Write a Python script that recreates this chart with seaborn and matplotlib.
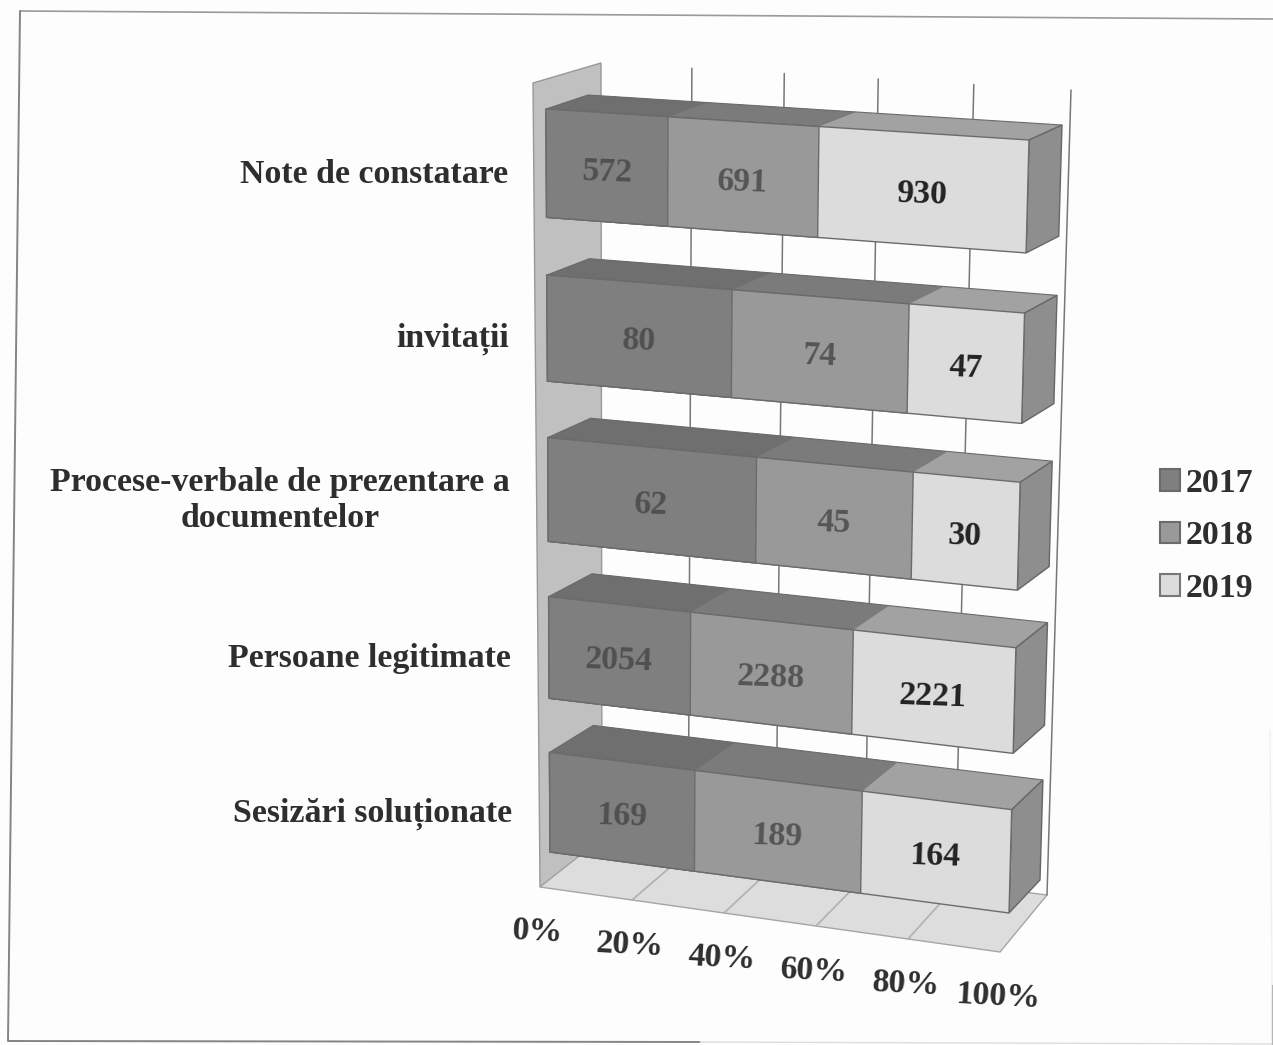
import numpy as np
import pandas as pd
import matplotlib
matplotlib.use("Agg")
import matplotlib.pyplot as plt
from matplotlib.patches import Patch, Polygon
from matplotlib.transforms import Transform
import seaborn as sns

categories = ["Note de constatare", "invitații",
              "Procese-verbale de prezentare a\ndocumentelor",
              "Persoane legitimate", "Sesizări soluționate"]
years = ["2017", "2018", "2019"]
v2017 = [572, 80, 62, 2054, 169]
v2018 = [691, 74, 45, 2288, 189]
v2019 = [930, 47, 30, 2221, 164]
x_ticks = [0, 20, 40, 60, 80, 100]

front_cols = ["#7f7f7f", "#999999", "#dcdcdc"]
top_cols = ["#6f6f6f", "#7b7b7b", "#a2a2a2"]
side_col = "#8e8e8e"
value_cols = ["#505050", "#555555", "#222222"]
text_col = "#2e2e2e"

W, H = 1273, 1045
BAR = 0.65
lo, hi = -BAR / 2, 4 + BAR / 2


def homography(src, dst):
    # 4 point fit, used for the fake 3d view
    a, b = [], []
    for (x, y), (u, v) in zip(src, dst):
        a.append([x, y, 1, 0, 0, 0, -u * x, -u * y])
        a.append([0, 0, 0, x, y, 1, -v * x, -v * y])
        b += [u, v]
    return np.append(np.linalg.solve(np.array(a, float), np.array(b, float)), 1).reshape(3, 3)


def warp(m, x, y):
    p = m @ np.array([x, y, 1.0])
    return p[0] / p[2], p[1] / p[2]


def floor_pt(s, z):
    # floor is close to a parallelogram, plain bilinear is enough
    fl, fr, bl, br = [np.array(c, float) for c in floor_corners]
    return tuple((1 - z) * ((1 - s) * fl + s * fr) + z * ((1 - s) * bl + s * br))


class Proj(Transform):
    input_dims = output_dims = 2
    is_affine = False

    def __init__(self, m):
        super().__init__()
        self.m = m

    def transform_non_affine(self, values):
        values = np.asarray(values, float)
        p = np.column_stack([values, np.ones(len(values))]) @ self.m.T
        return p[:, :2] / p[:, 2:]


# view of the box, in pixels of the picture
corners = [(0, lo), (1, lo), (0, hi), (1, hi)]
unit = [(0, 0), (1, 0), (0, 1), (1, 1)]
front = homography(corners, [(546, 109), (1029, 140), (550, 852), (1009, 913)])
back = homography(corners, [(588, 95), (1062, 125), (594, 822), (1040, 880)])
wall = homography(unit, [(601, 63), (1071, 90), (602, 838), (1047, 895)])
floor_corners = [(540, 887), (1000, 952), (602, 838), (1047, 895)]

sns.set_theme(style="white")
plt.rcParams["font.family"] = ["Liberation Serif", "DejaVu Serif"]
plt.rcParams["font.weight"] = "bold"

fig = plt.figure(figsize=(W / 100, H / 100), dpi=100, facecolor="#fdfdfd")
px = fig.add_axes([0, 0, 1, 1], zorder=0)
px.set_xlim(0, W)
px.set_ylim(H, 0)
px.axis("off")
bars = fig.add_axes([0, 0, 1, 1], zorder=1)
bars.patch.set_alpha(0)

# scanned page frame, a bit crooked and fading out on the right
px.plot([20, 1273], [11, 19], color="#9a9a9a", lw=1.2)
px.plot([20, 8, 700], [11, 1041, 1042], color="#858585", lw=1.4)
px.plot([700, 1273], [1042, 1044], color="#dddddd", lw=1)
px.plot([1270, 1272], [730, 985], color="#f0f0f0", lw=1)
px.plot([1272, 1272], [985, 1045], color="#b5b5b5", lw=1)

# side wall and floor
px.add_patch(Polygon([(533, 83), (601, 63), (602, 838), (540, 887)], fc="#c0c0c0", ec="#999999", lw=1))
px.add_patch(Polygon([floor_pt(*c) for c in [(0, 0), (1, 0), (1, 1), (0, 1)]], fc="#dddddd", ec="#a5a5a5", lw=1))
for t in x_ticks[1:]:
    s = t / 100
    px.plot(*zip(warp(wall, s, 0), warp(wall, s, 1)), color="#777777", lw=1.1)
    if t < 100:
        px.plot(*zip(floor_pt(s, 0), floor_pt(s, 1)), color="#b0b0b0", lw=1.2)

df = pd.DataFrame({"cat": categories, "2017": v2017, "2018": v2018, "2019": v2019})
totals = df[years].sum(axis=1)
shares = df[years].div(totals, axis=0)
right = shares.cumsum(axis=1)

# painted back to front, so each stack is three overlapping bars
tf = Proj(front) + px.transData
for i in [2, 1, 0]:
    before = len(bars.patches)
    sns.barplot(data=right, x=years[i], y=df["cat"], order=categories, orient="h", width=BAR,
                color=front_cols[i], saturation=1, edgecolor="#6b6b6b", linewidth=1, ax=bars)
    for p in bars.patches[before:]:
        x1, y0 = p.get_width(), p.get_y()
        y1 = y0 + p.get_height()
        p.set_transform(tf)
        px.add_patch(Polygon([warp(front, 0, y0), warp(front, x1, y0), warp(back, x1, y0), warp(back, 0, y0)],
                             fc=top_cols[i], ec="none", zorder=3 + (2 - i)))
        if i == 2:
            px.add_patch(Polygon([warp(front, 1, y0), warp(back, 1, y0), warp(back, 1, y1), warp(front, 1, y1)],
                                 fc=side_col, ec="#666666", lw=1, zorder=3))
            px.plot(*zip(warp(front, 0, y0), warp(back, 0, y0), warp(back, 1, y0), warp(front, 1, y0)),
                    color="#6b6b6b", lw=0.8, zorder=7)
bars.set_xlim(0, 1)
bars.set_ylim(hi, lo)
bars.axis("off")

fs = 24.4
for r, cat in enumerate(categories):
    x, y = warp(front, 0, r)
    fig.text(x - 38, y + 11, cat, transform=px.transData, ha="right", va="center", multialignment="center",
             fontsize=fs, color=text_col, linespacing=1.2)
    start = 0
    for i, year in enumerate(years):
        xc, yc = warp(front, start + shares.loc[r, year] / 2, r)
        fig.text(xc, yc + 5, str(df.loc[r, year]), transform=px.transData, ha="center", va="center",
                 fontsize=fs, color=value_cols[i], rotation=-2)
        start += shares.loc[r, year]

for t in x_ticks:
    x, y = floor_pt(t / 100, 0)
    fig.text(x - 2, y + 45, f"{t}%", transform=px.transData, ha="center", va="center",
             fontsize=fs, color=text_col, rotation=-3)

handles = [Patch(fc=front_cols[i], ec="#6b6b6b" if i < 2 else "#777777", lw=1.5) for i in range(3)]
fig.legend(handles, years, loc="center left", bbox_to_anchor=(1160, 536), bbox_transform=px.transData,
           frameon=False, fontsize=fs, handlelength=0.6, handleheight=0.6, handletextpad=0.15,
           labelspacing=0.64, labelcolor=text_col, borderaxespad=0, borderpad=0)

fig.savefig("out.png", dpi=100, facecolor=fig.get_facecolor())
